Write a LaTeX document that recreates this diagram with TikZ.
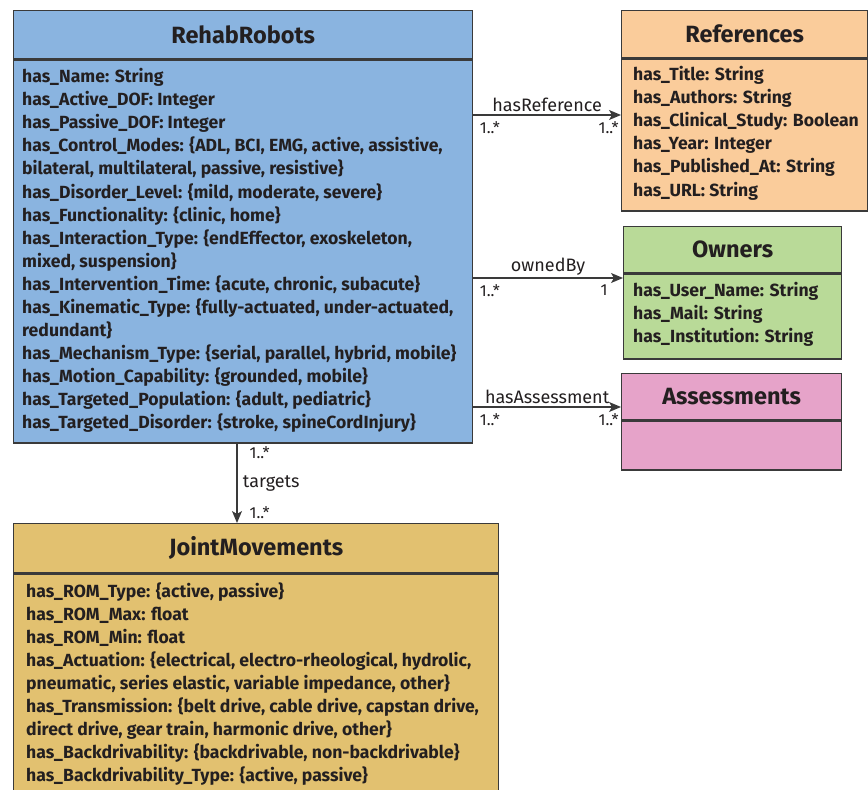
\documentclass[tikz,border=0pt]{standalone}
\usepackage{fontspec}
\setmainfont{Fira Sans}
\usetikzlibrary{positioning,arrows.meta}

\definecolor{robotblue}{RGB}{138,180,224}
\definecolor{refsorange}{RGB}{250,204,155}
\definecolor{ownergreen}{RGB}{185,218,152}
\definecolor{assesspink}{RGB}{230,163,201}
\definecolor{jointgold}{RGB}{226,193,112}
\definecolor{umlline}{RGB}{58,58,58}
\definecolor{umltext}{RGB}{35,31,32}

\tikzset{
  classhead/.style={draw=umlline, line width=1.3pt, anchor=north west, inner sep=0pt,
    text=umltext, font=\fontsize{23.5}{26}\selectfont\bfseries},
  classbody/.style={draw=umlline, line width=1.3pt, inner sep=0pt},
  attrs/.style={anchor=north west, inner sep=0pt, align=left, text=umltext,
    font=\fontsize{17.6}{23.05}\selectfont\bfseries},
  assoc/.style={umlline, line width=1.2pt, -{Stealth[length=12pt,width=10pt,inset=3pt]}},
  role/.style={text=umltext, font=\fontsize{18}{20}\selectfont},
  mult/.style={text=umltext, font=\fontsize{16}{18}\selectfont, inner sep=2pt},
  multstart/.style={mult, pos=0, anchor=north west, xshift=4pt, yshift=-4pt},
  multend/.style={mult, pos=1, anchor=north west, xshift=-25pt, yshift=-4pt}
}

\begin{document}
\begin{tikzpicture}[x=1pt,y=-1pt]
  \useasboundingbox (0,0) rectangle (868,790);
  \clip (0,0) rectangle (868,790);

  % classes
  \node[classhead, fill=robotblue, minimum width=459pt, minimum height=48pt] (robothead) at (13,10) {RehabRobots};
  \node[classbody, fill=robotblue, minimum width=459pt, minimum height=383pt, below=0pt of robothead] (robotbody) {};
  \node[attrs] (robotattrs) at ([xshift=9pt,yshift=-9pt]robotbody.north west) {%
    has\_Name: String\\
    has\_Active\_DOF: Integer\\
    has\_Passive\_DOF: Integer\\
    has\_Control\_Modes: \{ADL, BCI, EMG, active, assistive,\\
    bilateral, multilateral, passive, resistive\}\\
    has\_Disorder\_Level: \{mild, moderate, severe\}\\
    has\_Functionality: \{clinic, home\}\\
    has\_Interaction\_Type: \{endEffector, exoskeleton,\\
    mixed, suspension\}\\
    has\_Intervention\_Time: \{acute, chronic, subacute\}\\
    has\_Kinematic\_Type: \{fully-actuated, under-actuated,\\
    redundant\}\\
    has\_Mechanism\_Type: \{serial, parallel, hybrid, mobile\}\\
    has\_Motion\_Capability: \{grounded, mobile\}\\
    has\_Targeted\_Population: \{adult, pediatric\}\\
    has\_Targeted\_Disorder: \{stroke, spineCordInjury\}};

  \node[classhead, fill=refsorange, minimum width=246pt, minimum height=47pt] (refhead) at (621,10) {References};
  \node[classbody, fill=refsorange, minimum width=246pt, minimum height=152pt, below=0pt of refhead] (refbody) {};
  \node[attrs] (refattrs) at ([xshift=12pt,yshift=-8pt]refbody.north west) {%
    has\_Title: String\\
    has\_Authors: String\\
    has\_Clinical\_Study: Boolean\\
    has\_Year: Integer\\
    has\_Published\_At: String\\
    has\_URL: String};

  \node[classhead, fill=ownergreen, minimum width=218pt, minimum height=46pt] (ownerhead) at (623,226) {Owners};
  \node[classbody, fill=ownergreen, minimum width=218pt, minimum height=85pt, below=0pt of ownerhead] (ownerbody) {};
  \node[attrs] (ownerattrs) at ([xshift=10pt,yshift=-9pt]ownerbody.north west) {%
    has\_User\_Name: String\\
    has\_Mail: String\\
    has\_Institution: String};

  \node[classhead, fill=assesspink, minimum width=220pt, minimum height=46pt] (assesshead) at (621,373) {Assessments};
  \node[classbody, fill=assesspink, minimum width=220pt, minimum height=49pt, below=0pt of assesshead] (assessbody) {};

  \node[classhead, fill=jointgold, minimum width=485pt, minimum height=49pt] (jointhead) at (13,523) {JointMovements};
  \node[classbody, fill=jointgold, minimum width=485pt, minimum height=226pt, below=0pt of jointhead] (jointbody) {};
  \node[attrs] (jointattrs) at ([xshift=13pt,yshift=-9pt]jointbody.north west) {%
    has\_ROM\_Type: \{active, passive\}\\
    has\_ROM\_Max: float\\
    has\_ROM\_Min: float\\
    has\_Actuation: \{electrical, electro-rheological, hydrolic,\\
    pneumatic, series elastic, variable impedance, other\}\\
    has\_Transmission: \{belt drive, cable drive, capstan drive,\\
    direct drive, gear train, harmonic drive, other\}\\
    has\_Backdrivability: \{backdrivable, non-backdrivable\}\\
    has\_Backdrivability\_Type: \{active, passive\}};

  % associations
  \draw[assoc] (robotbody.east |- 0,115) -- node[role,above=-1pt] {hasReference}
    node[multstart] {1..*} node[multend] {1..*} (refbody.west |- 0,115);
  \draw[assoc] (robotbody.east |- 0,278) -- node[role,above=-1pt] {ownedBy}
    node[multstart] {1..*} node[multend] {1} (ownerbody.west |- 0,278);
  \draw[assoc] (robotbody.east |- 0,407) -- node[role,above=-1pt] {hasAssessment}
    node[multstart] {1..*} node[multend] {1..*} (assesshead.west |- 0,407);
  \draw[assoc] (robotbody.south -| 237,0) -- node[role,right=2pt] {targets}
    node[mult,pos=0,below right,xshift=10pt] {1..*} node[mult,pos=1,above right,xshift=10pt,yshift=2pt] {1..*} (jointhead.north -| 237,0);
\end{tikzpicture}
\end{document}
